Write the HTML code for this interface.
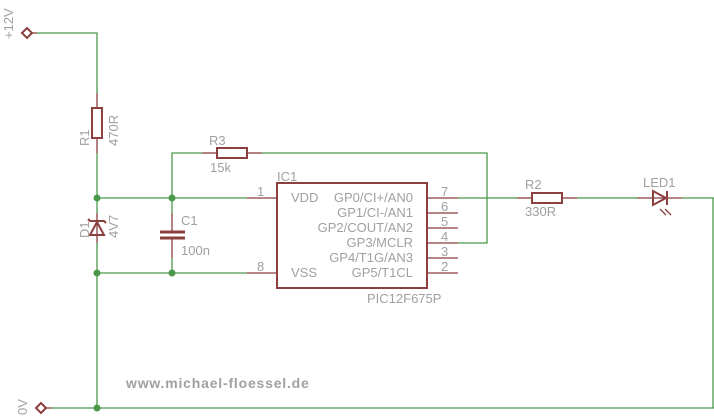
<!DOCTYPE html>
<html><head><style>body{margin:0;background:#fff}svg{display:block}text{font-family:"Liberation Sans",sans-serif;fill:#a0a0a0;font-size:13px}</style></head><body>
<svg width="714" height="420" viewBox="0 0 714 420">
<g stroke="#4a994a" stroke-width="1.3" fill="none">
<polyline points="37,33 97,33 97,93"/>
<line x1="97" y1="153" x2="97" y2="213"/>
<line x1="97" y1="243" x2="97" y2="408"/>
<line x1="52" y1="408" x2="714" y2="408"/>
<line x1="713" y1="198" x2="713" y2="408"/>
<line x1="97" y1="198" x2="247" y2="198"/>
<line x1="97" y1="273" x2="247" y2="273"/>
<polyline points="172,213 172,198 172,153 202,153"/>
<line x1="172" y1="258" x2="172" y2="273"/>
<polyline points="262,153 487,153 487,243 458,243"/>
<line x1="458" y1="198" x2="517" y2="198"/>
<line x1="577" y1="198" x2="637" y2="198"/>
<line x1="682" y1="198" x2="714" y2="198"/>
</g>
<g fill="#4a994a"><circle cx="97" cy="198" r="3.5"/><circle cx="97" cy="273" r="3.5"/><circle cx="172" cy="198" r="3.5"/><circle cx="172" cy="273" r="3.5"/><circle cx="97" cy="408" r="3.5"/></g>
<g stroke="#8b3f3f" stroke-width="1.3" fill="none">
<line x1="97" y1="93" x2="97" y2="108"/><line x1="97" y1="138" x2="97" y2="153"/>
<rect x="92" y="108" width="10" height="30" stroke-width="2"/>
<line x1="202" y1="153" x2="217" y2="153"/><line x1="247" y1="153" x2="262" y2="153"/>
<rect x="217" y="148" width="30" height="10" stroke-width="2"/>
<line x1="517" y1="198" x2="532" y2="198"/><line x1="562" y1="198" x2="577" y2="198"/>
<rect x="532" y="193" width="30" height="10" stroke-width="2"/>
<line x1="97" y1="213" x2="97" y2="243"/>
<polygon points="90,235 104,235 97,222" stroke-width="2"/>
<polyline points="88,219 90,221 104,221 106,223" stroke-width="2"/>
<line x1="172" y1="213" x2="172" y2="232"/><line x1="172" y1="238" x2="172" y2="258"/>
<line x1="160" y1="232" x2="185" y2="232" stroke-width="3"/><line x1="160" y1="238" x2="185" y2="238" stroke-width="3"/>
<line x1="637" y1="198" x2="682" y2="198"/>
<polygon points="653,191 653,205 666,198" stroke-width="2"/><line x1="667" y1="191" x2="667" y2="205" stroke-width="2"/>
<line x1="660" y1="209" x2="666" y2="215"/><line x1="665" y1="209" x2="671" y2="215"/>
<rect x="277" y="183" width="150" height="105" stroke-width="2"/>
<line x1="247" y1="198" x2="277" y2="198"/><line x1="247" y1="273" x2="277" y2="273"/>
<line x1="427" y1="198" x2="458" y2="198"/><line x1="427" y1="213" x2="458" y2="213"/><line x1="427" y1="228" x2="458" y2="228"/><line x1="427" y1="243" x2="458" y2="243"/><line x1="427" y1="258" x2="458" y2="258"/><line x1="427" y1="273" x2="458" y2="273"/>
<polygon points="22,33 27,28 32,33 27,38" stroke-width="2"/><line x1="32" y1="33" x2="37" y2="33"/>
<polygon points="36,408 41,403 46,408 41,413" stroke-width="2"/><line x1="46" y1="408" x2="52" y2="408"/>
</g>
<text transform="translate(13,39) rotate(-90)">+12V</text>
<text transform="translate(27,415) rotate(-90)">0V</text>
<text transform="translate(89,146) rotate(-90)">R1</text>
<text transform="translate(118,146) rotate(-90)">470R</text>
<text transform="translate(89,238) rotate(-90)">D1</text>
<text transform="translate(118,238) rotate(-90)">4V7</text>
<text x="209" y="145">R3</text><text x="210" y="172">15k</text>
<text x="181" y="225">C1</text><text x="181" y="255">100n</text>
<text x="277" y="181">IC1</text>
<text x="257" y="196">1</text><text x="257" y="271">8</text>
<text x="291" y="202">VDD</text><text x="291" y="277">VSS</text>
<g text-anchor="end"><text x="413" y="202">GP0/CI+/AN0</text><text x="413" y="217">GP1/CI-/AN1</text><text x="413" y="232">GP2/COUT/AN2</text><text x="413" y="247">GP3/MCLR</text><text x="413" y="262">GP4/T1G/AN3</text><text x="413" y="277">GP5/T1CL</text></g>
<text x="441" y="196">7</text><text x="441" y="211">6</text><text x="441" y="226">5</text><text x="441" y="241">4</text><text x="441" y="256">3</text><text x="441" y="271">2</text>
<text x="367" y="303">PIC12F675P</text>
<text x="525" y="189">R2</text><text x="525" y="216">330R</text>
<text x="643" y="187">LED1</text>
<text x="126" y="388" style="font-weight:bold;font-size:14px;letter-spacing:0.8px">www.michael-floessel.de</text>
</svg>
</body></html>
